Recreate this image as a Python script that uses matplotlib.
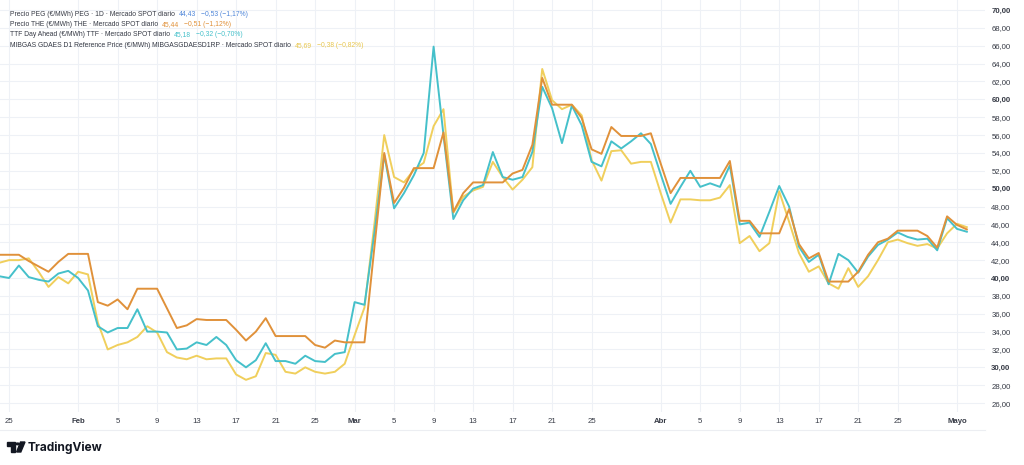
import numpy as np
import pandas as pd
import matplotlib
matplotlib.use("Agg")
import matplotlib.pyplot as plt
import matplotlib.dates as mdates
from matplotlib.patches import Polygon, Circle

# ---------------- data (daily, 24 Jan 2025 -> 2 May 2025) ----------------
start_date = "2025-01-24"
end_date = "2025-05-02"

the_values = [
    42.6, 42.6, 42.6, 41.9, 41.3, 40.7, 41.8, 42.7,
    42.7, 42.7, 37.3, 36.9, 37.6, 36.5, 38.8, 38.8, 38.8, 36.6,
    34.4, 34.7, 35.4, 35.3, 35.3, 35.3, 34.2, 33.0, 34.0, 35.5,
    33.5, 33.5, 33.5, 33.5, 32.5, 32.2, 33.0, 32.8,
    32.8, 32.8, 43.4, 54.0, 48.4, 50.1, 52.3, 52.3, 52.3, 56.3,
    47.4, 49.5, 50.7, 50.7, 50.7, 50.7, 51.7, 52.1, 54.9, 62.4,
    59.4, 59.4, 59.4, 57.9, 54.4, 53.9, 56.9, 55.9, 55.9, 55.9, 56.2,
    52.8, 49.5, 51.2, 51.2, 51.2, 51.2, 51.2, 53.1, 46.4, 46.4,
    45.0, 45.0, 45.0, 47.7, 43.8, 42.2, 42.8, 39.6, 39.6, 39.6,
    40.7, 42.6, 44.0, 44.4, 45.3, 45.3, 45.3, 44.7, 43.4, 46.9,
    45.95, 45.44,
]

ttf_values = [
    40.2, 40.0, 41.4, 40.1, 39.8, 39.6, 40.5, 40.8,
    40.0, 38.6, 34.6, 33.9, 34.4, 34.4, 36.5, 34.0, 34.0, 33.9,
    32.0, 32.1, 32.8, 32.5, 33.4, 32.5, 30.8, 30.0, 30.8, 32.7,
    30.7, 30.7, 30.4, 31.3, 30.7, 30.6, 31.5, 31.7,
    37.3, 37.0, 45.0, 53.8, 47.8, 49.5, 51.5, 54.0, 65.9, 56.0,
    46.6, 48.7, 50.0, 50.4, 54.1, 51.3, 51.0, 51.3, 54.1, 61.4,
    59.0, 55.1, 59.3, 57.1, 53.0, 52.5, 55.3, 54.5, 55.3, 56.2, 55.0,
    51.6, 48.3, 50.2, 52.0, 50.2, 50.6, 50.2, 52.6, 46.0, 46.2,
    44.6, 47.4, 50.3, 48.0, 43.5, 41.8, 42.6, 39.3, 42.7, 42.0,
    40.6, 42.4, 43.7, 44.3, 45.1, 44.6, 44.3, 44.4, 43.1, 46.7,
    45.50, 45.18,
]

mibgas_values = [
    41.7, 42.0, 42.0, 42.2, 40.7, 39.0, 40.1, 39.4,
    40.7, 40.4, 35.0, 32.0, 32.5, 32.8, 33.4, 34.6, 33.9, 31.7,
    31.1, 30.9, 31.3, 30.9, 31.0, 31.0, 29.2, 28.6, 29.0, 31.6,
    31.4, 29.5, 29.3, 30.0, 29.5, 29.3, 29.5, 30.4,
    33.6, 36.7, 46.0, 56.0, 51.3, 50.7, 52.1, 52.9, 57.0, 58.9,
    47.3, 49.1, 49.8, 50.2, 53.0, 51.3, 49.9, 51.0, 52.4, 63.4,
    59.9, 58.9, 59.4, 58.2, 53.2, 50.9, 54.2, 54.3, 52.8, 53.0, 53.0,
    49.5, 46.2, 48.8, 48.8, 48.7, 48.7, 49.0, 50.4, 43.9, 44.7,
    43.0, 43.9, 49.7, 46.3, 42.8, 40.7, 41.3, 39.4, 38.8, 41.1,
    39.0, 40.2, 42.0, 44.0, 44.3, 43.9, 43.6, 43.8, 43.3, 45.0,
    46.07, 45.69,
]

legend_labels = [
    "Precio PEG (\u20ac/MWh) PEG \u00b7 1D \u00b7 Mercado SPOT diario",
    "Precio THE (\u20ac/MWh) THE \u00b7 Mercado SPOT diario",
    "TTF Day Ahead (\u20ac/MWh) TTF \u00b7 Mercado SPOT diario",
    "MIBGAS GDAES D1 Reference Price (\u20ac/MWh) MIBGASGDAESD1RP \u00b7 Mercado SPOT diario",
]
legend_last = ["44,43", "45,44", "45,18", "45,69"]
legend_change = ["\u22120,53 (\u22121,17%)", "\u22120,51 (\u22121,12%)",
                 "\u22120,32 (\u22120,70%)", "\u22120,38 (\u22120,82%)"]

tick_dates = ["2025-01-25", "2025-02-01", "2025-02-05", "2025-02-09", "2025-02-13",
              "2025-02-17", "2025-02-21", "2025-02-25", "2025-03-01", "2025-03-05",
              "2025-03-09", "2025-03-13", "2025-03-17", "2025-03-21", "2025-03-25",
              "2025-04-01", "2025-04-05", "2025-04-09", "2025-04-13", "2025-04-17",
              "2025-04-21", "2025-04-25", "2025-05-01"]
tick_labels = ["25", "Feb", "5", "9", "13", "17", "21", "25", "Mar", "5", "9", "13",
               "17", "21", "25", "Abr", "5", "9", "13", "17", "21", "25", "Mayo"]
month_labels = {"Feb", "Mar", "Abr", "Mayo"}
y_ticks = list(range(26, 71, 2))

# ---------------- style ----------------
C_THE = "#e0913a"
C_TTF = "#45c0ca"
C_MIB = "#f0cf5c"
C_PEG = "#4f86d9"
C_GRID = "#eef1f6"
C_TEXT = "#363a45"
FONT = ["Liberation Sans", "DejaVu Sans"]

W, H = 1024, 465
fig = plt.figure(figsize=(W / 100, H / 100), dpi=100)
fig.patch.set_facecolor("white")

plot_right = 985
plot_bottom = 412
ax = fig.add_axes([0, 1 - plot_bottom / H, plot_right / W, plot_bottom / H])
ax.set_facecolor("white")

dates = pd.date_range(start_date, end_date, freq="D")
ax.plot(dates, mibgas_values, color=C_MIB, lw=1.4, zorder=3, solid_joinstyle="round")
ax.plot(dates, ttf_values, color=C_TTF, lw=1.4, zorder=4, solid_joinstyle="round")
ax.plot(dates, the_values, color=C_THE, lw=1.4, zorder=5, solid_joinstyle="round")

# axis ranges (pixel calibrated)
x0 = mdates.date2num(pd.Timestamp("2025-01-25"))
ax.set_xlim(x0 - 0.911, x0 + 98.84)
ax.set_ylim(25.0, 71.12)

for s in ax.spines.values():
    s.set_visible(False)

tpos = [mdates.date2num(pd.Timestamp(d)) for d in tick_dates]
ax.set_xticks(tpos)
ax.set_xticklabels(tick_labels)
for lab in ax.get_xticklabels():
    lab.set_fontfamily(FONT)
    lab.set_fontsize(5.6)
    lab.set_color(C_TEXT)
    if lab.get_text() in month_labels:
        lab.set_fontweight("bold")
ax.tick_params(axis="x", length=0, pad=4.2)

ax.yaxis.tick_right()
ax.set_yticks(y_ticks)
ax.set_yticklabels([f"{v:.2f}".replace(".", ",") for v in y_ticks])
for v, lab in zip(y_ticks, ax.get_yticklabels()):
    lab.set_fontfamily(FONT)
    lab.set_fontsize(5.6)
    lab.set_color(C_TEXT)
    if v % 10 == 0:
        lab.set_fontweight("bold")
ax.tick_params(axis="y", length=0, pad=4.5)

ax.grid(True, color=C_GRID, lw=0.8, zorder=0)
ax.set_axisbelow(True)

# separator below the time axis
fig.add_artist(plt.Line2D([0, plot_right / W], [1 - 430 / H, 1 - 430 / H],
                          transform=fig.transFigure, color="#eceef2", lw=0.8))

# ---------------- legend (top-left text block) ----------------
renderer = fig.canvas.get_renderer()
val_colors = [C_PEG, C_THE, C_TTF, "#e9c74e"]
y_lines = [14, 24.5, 35, 45.5]
LFS = 4.85
for lab, last, chg, col, yp in zip(legend_labels, legend_last, legend_change, val_colors, y_lines):
    t = fig.text(10 / W, 1 - yp / H, lab, fontsize=LFS, family=FONT, color=C_TEXT,
                 va="center", ha="left")
    bb = t.get_window_extent(renderer)
    x1 = bb.x1 + 4
    t2 = fig.text(x1 / W, 1 - yp / H, last, fontsize=LFS, family=FONT, color=col,
                  va="center", ha="left")
    bb2 = t2.get_window_extent(renderer)
    fig.text((bb2.x1 + 5) / W, 1 - yp / H, chg, fontsize=LFS, family=FONT, color=col,
             va="center", ha="left")

# ---------------- TradingView logo ----------------
def px(x, y):
    return (x / W, 1 - y / H)

logo_col = "#131722"
fig.add_artist(Polygon([px(7, 442), px(14.5, 442), px(14.5, 452), px(11, 452),
                        px(11, 445.5), px(7, 445.5)], closed=True,
                       transform=fig.transFigure, color=logo_col))
fig.add_artist(Circle(px(17.6, 443.9), radius=1.8 / W, transform=fig.transFigure,
                      color=logo_col))
fig.add_artist(Polygon([px(20.5, 442), px(25, 442), px(20.8, 452), px(16.6, 452)],
                       closed=True, transform=fig.transFigure, color=logo_col))
fig.text(28 / W, 1 - 447.5 / H, "TradingView", fontsize=8.6, family=["Inter", "DejaVu Sans"],
         fontweight="bold", color=logo_col, va="center", ha="left")

fig.savefig("out.png", dpi=100, facecolor="white")
